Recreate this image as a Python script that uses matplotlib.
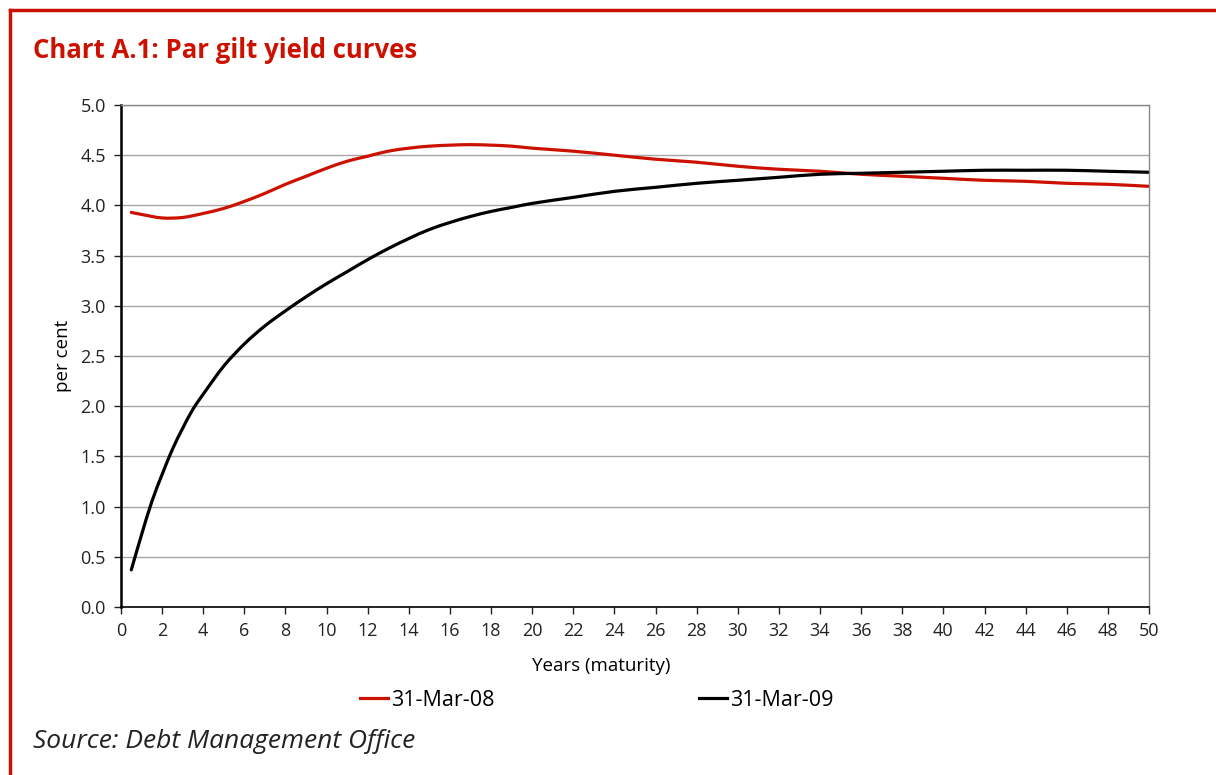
import matplotlib
matplotlib.use('Agg')
import matplotlib.pyplot as plt
from matplotlib.lines import Line2D
from matplotlib.path import Path
from matplotlib.patches import PathPatch

plt.rcParams['font.family'] = ['Open Sans', 'DejaVu Sans']

# maturities (years) and par yields (per cent)
years_08 = [0.5, 1, 2, 3, 4, 5, 6, 7, 8, 9, 10, 11, 12, 13, 14, 15, 16, 17, 18, 19, 20,
            22, 24, 26, 28, 30, 32, 34, 36, 38, 40, 42, 44, 46, 48, 50]
yield_08 = [3.93, 3.91, 3.875, 3.88, 3.92, 3.97, 4.04, 4.12, 4.21, 4.29, 4.37, 4.44, 4.49,
            4.54, 4.57, 4.59, 4.60, 4.605, 4.60, 4.59, 4.57,
            4.54, 4.50, 4.46, 4.43, 4.39, 4.36, 4.34, 4.31, 4.29, 4.27, 4.25, 4.24, 4.22, 4.21, 4.19]

years_09 = [0.5, 1, 1.5, 2, 2.5, 3, 3.5, 4, 5, 6, 7, 8, 9, 10, 11, 12, 13, 14, 15, 16, 17,
            18, 19, 20, 22, 24, 26, 28, 30, 32, 34, 36, 38, 40, 42, 44, 46, 48, 50]
yield_09 = [0.37, 0.72, 1.05, 1.32, 1.57, 1.78, 1.97, 2.12, 2.40, 2.62, 2.80, 2.95, 3.09,
            3.22, 3.34, 3.46, 3.57, 3.67, 3.76, 3.83, 3.89,
            3.94, 3.98, 4.02, 4.08, 4.14, 4.18, 4.22, 4.25, 4.28, 4.31, 4.32, 4.33, 4.34,
            4.35, 4.35, 4.35, 4.34, 4.33]

labels = ['31-Mar-08', '31-Mar-09']
colors = ['#cc1100', '#000000']


def smooth_path(xs, ys):
    # smoothed line (like Excel's): cubic Bezier through the points
    n = len(xs)
    slopes = []
    for i in range(n):
        a = max(i - 1, 0)
        b = min(i + 1, n - 1)
        slopes.append((ys[b] - ys[a]) / (xs[b] - xs[a]))
    verts = [(xs[0], ys[0])]
    codes = [Path.MOVETO]
    for i in range(n - 1):
        h = xs[i + 1] - xs[i]
        verts.append((xs[i] + h / 3, ys[i] + slopes[i] * h / 3))
        verts.append((xs[i + 1] - h / 3, ys[i + 1] - slopes[i + 1] * h / 3))
        verts.append((xs[i + 1], ys[i + 1]))
        codes += [Path.CURVE4] * 3
    return Path(verts, codes)


fig = plt.figure(figsize=(12.16, 7.75), dpi=100)
ax = fig.add_axes([121 / 1216, 168 / 775, 1028 / 1216, 502 / 775])

# red frame lines of the page box
fig.add_artist(Line2D([10 / 1216, 1.0], [765 / 775, 765 / 775], color='#cc1100', lw=2.5))
fig.add_artist(Line2D([10 / 1216, 10 / 1216], [0, 765 / 775], color='#cc1100', lw=2.5))

for xs, ys, c in [(years_08, yield_08, colors[0]), (years_09, yield_09, colors[1])]:
    ax.add_patch(PathPatch(smooth_path(xs, ys), facecolor='none', edgecolor=c, lw=2.3,
                           capstyle='round', joinstyle='round'))

ax.set_xlim(0, 50)
ax.set_ylim(0, 5)
ax.set_xticks(range(0, 51, 2))
ax.set_yticks([i * 0.5 for i in range(11)])
ax.set_yticklabels(['%.1f' % (i * 0.5) for i in range(11)])
ax.grid(axis='y', color='#a6a6a6', lw=1)
ax.set_axisbelow(True)
ax.tick_params(labelsize=13, colors='#222222', length=5, width=1, direction='out', pad=6)

for side in ['top', 'right']:
    ax.spines[side].set_color('#888888')
    ax.spines[side].set_linewidth(1)
ax.spines['left'].set_color('black')
ax.spines['left'].set_linewidth(1.8)
ax.spines['bottom'].set_color('black')
ax.spines['bottom'].set_linewidth(1.2)

ax.set_xlabel('Years (maturity)', fontsize=13.5)
ax.xaxis.set_label_coords((601 - 121) / 1028, -0.1)
ax.set_ylabel('per cent', fontsize=13.5)
ax.yaxis.set_label_coords((72 - 121) / 1028, 0.5)

fig.text(33 / 1216, 1 - 51 / 775, 'Chart A.1: Par gilt yield curves', color='#cc1100',
         fontsize=18.5, fontweight='bold', va='center', ha='left')

handles = [Line2D([], [], color=c, lw=2.3) for c in colors]
fig.legend(handles, labels, loc='center', bbox_to_anchor=(597 / 1216, 1 - 700 / 775), ncol=2,
           frameon=False, fontsize=15.5, handlelength=1.3, handletextpad=0.15,
           columnspacing=9.5)

fig.text(33 / 1216, 1 - 742 / 775, 'Source: Debt Management Office', fontsize=19,
         style='italic', va='center', ha='left', color='#222222')

fig.savefig('out.png', dpi=100)
